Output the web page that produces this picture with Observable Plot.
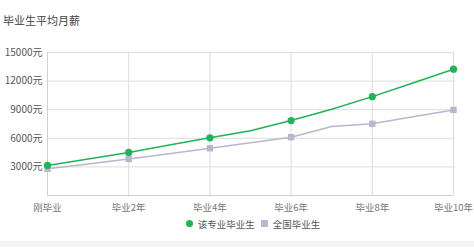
<!DOCTYPE html>
<html><head><meta charset="utf-8">
<script src="https://cdn.jsdelivr.net/npm/d3@7"></script>
<script src="https://cdn.jsdelivr.net/npm/@observablehq/plot@0.6"></script>
<style>
body{margin:0;background:#fff;font-family:"Noto Sans CJK SC","Noto Sans",sans-serif;}
#wrap{position:relative;width:474px;height:247px;overflow:hidden;}
#title{position:absolute;left:3px;top:12px;font-size:11px;color:#444;}
#chart{position:absolute;left:0;top:0;}
#legend{position:absolute;left:16px;top:216px;width:474px;text-align:center;font-size:9.5px;color:#555;}
#legend span.item{display:inline-flex;align-items:center;margin:0 3px;}
#foot{position:absolute;left:0;top:241px;width:474px;height:6px;background:#f4f4f4;}
</style></head>
<body><div id="wrap"><div id="chart"></div><div id="title">毕业生平均月薪</div><div id="legend"></div><div id="foot"></div></div>
<script>
const years = [0,1,2,3,4,5,6,7,8,9,10];
const majorSalary = [3150,3840,4520,5290,6050,6800,7860,9050,10370,11800,13250];
const nationalSalary = [2800,3300,3820,4390,4960,5540,6120,7230,7520,8250,8980];
const markedYears = [0,2,4,6,8,10];
const xTickLabels = ["刚毕业","毕业2年","毕业4年","毕业6年","毕业8年","毕业10年"];
const yTicks = [3000,6000,9000,12000,15000];
const seriesNames = ["该专业毕业生","全国毕业生"];
const colors = ["#1fb456","#b7b7cf"];

const rows = [];
years.forEach((yr,i)=>{
  rows.push({year:yr, value:majorSalary[i], series:seriesNames[0]});
  rows.push({year:yr, value:nationalSalary[i], series:seriesNames[1]});
});
const marked = rows.filter(d=>markedYears.includes(d.year));

const chart = Plot.plot({
  width:474, height:216,
  marginLeft:47, marginRight:21, marginTop:52, marginBottom:21,
  style:{fontFamily:'"Noto Sans CJK SC","Noto Sans",sans-serif', fontSize:"10px", color:"#666", background:"transparent"},
  x:{domain:[0,10], ticks:markedYears, tickFormat:d=>xTickLabels[markedYears.indexOf(d)], tickSize:0, tickPadding:9, label:null},
  y:{domain:[0,15000], ticks:yTicks, tickFormat:d=>d+"元", tickSize:0, tickPadding:5, label:null},
  color:{domain:seriesNames, range:colors},
  marks:[
    Plot.gridY(yTicks,{stroke:"#dcdcdc", strokeOpacity:1}),
    Plot.gridX(markedYears,{stroke:"#dcdcdc", strokeOpacity:1}),
    Plot.ruleY([0],{stroke:"#d0d0d0"}),
    Plot.ruleX([0],{stroke:"#d0d0d0"}),
    Plot.axisX({ticks:markedYears, tickFormat:d=>xTickLabels[markedYears.indexOf(d)], tickSize:0, tickPadding:9, fill:"#777", fontSize:9.5}),
    Plot.axisY({ticks:yTicks, tickFormat:d=>d+"元", tickSize:0, tickPadding:5, fill:"#555", fontSize:10}),
    Plot.line(rows.filter(d=>d.series===seriesNames[1]),{x:"year", y:"value", stroke:colors[1], strokeWidth:1.5}),
    Plot.line(rows.filter(d=>d.series===seriesNames[0]),{x:"year", y:"value", stroke:colors[0], strokeWidth:1.5}),
    Plot.dot(marked.filter(d=>d.series===seriesNames[1]),{x:"year", y:"value", symbol:"square", r:3.6, fill:colors[1], stroke:"none"}),
    Plot.dot(marked.filter(d=>d.series===seriesNames[0]),{x:"year", y:"value", symbol:"circle", r:3.6, fill:colors[0], stroke:"none"})
  ]
});
document.getElementById("chart").appendChild(chart);

const legend = document.getElementById("legend");
seriesNames.forEach((name,i)=>{
  const item = document.createElement("span");
  item.className="item";
  const sw = document.createElement("span");
  sw.style.cssText = `display:inline-block;width:7px;height:7px;margin-right:5px;background:${colors[i]};border-radius:${i===0?"50%":"0"};`;
  item.appendChild(sw);
  item.appendChild(document.createTextNode(name));
  legend.appendChild(item);
});
</script></body></html>
